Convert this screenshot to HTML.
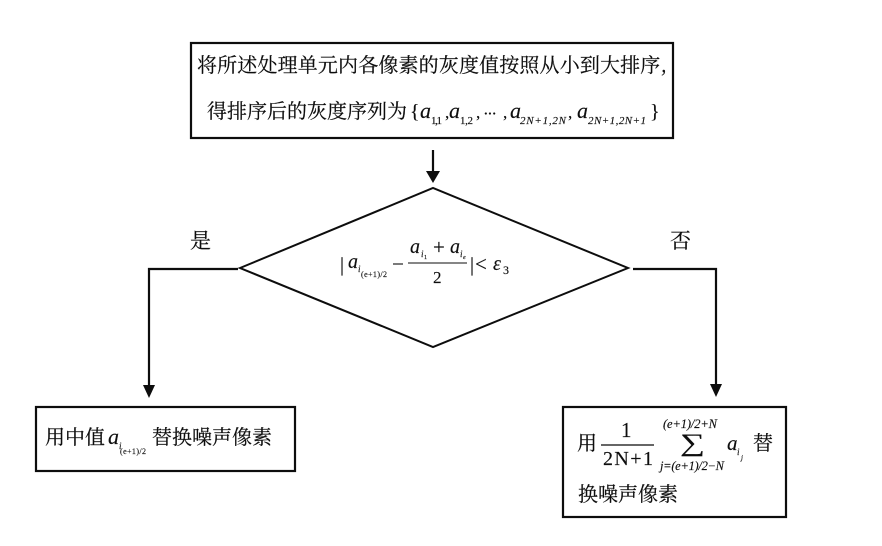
<!DOCTYPE html>
<html><head><meta charset="utf-8"><style>
html,body{margin:0;padding:0;background:#fff}
svg{display:block}
text{fill:#111;stroke:#111;stroke-width:.15}
.c{font-family:"Noto Serif CJK SC","Liberation Serif",serif;font-size:20px;stroke-width:.2}
.m{font-family:"Liberation Serif",serif;font-style:italic}
.r{font-family:"Liberation Serif",serif}
</style></head><body>
<svg width="882" height="546" viewBox="0 0 882 546" xmlns="http://www.w3.org/2000/svg">
<defs><filter id="b" filterUnits="userSpaceOnUse" x="0" y="0" width="882" height="546"><feGaussianBlur stdDeviation="0.35"/></filter></defs>
<rect width="882" height="546" fill="#fff"/>
<g filter="url(#b)">
<g fill="none" stroke="#111" stroke-width="2.2">
<rect x="191" y="43" width="482" height="95"/>
<rect x="36" y="407" width="259" height="64"/>
<rect x="563" y="407" width="223" height="110"/>
<path d="M240 268L433 188L628 268L433 347Z" stroke-width="2"/>
<path d="M238 269H149V386M633 269H716V386M433 150V172"/>
<path d="M408 263H467" stroke-width="1.1"/>
<path d="M393 264H403" stroke-width="1.1"/>
<path d="M601 445H654" stroke-width="1.3"/>
</g>
<g fill="#111">
<path d="M426 171H440L433 183Z"/>
<path d="M143 385H155L149 398Z"/>
<path d="M710 384H722L716 397Z"/>
</g>
<text class="c" x="197" y="72" textLength="470">将所述处理单元内各像素的灰度值按照从小到大排序,</text>
<text class="c" x="207" y="118">得排序后的灰度序列为</text>
<text class="r" x="410" y="118" font-size="20">{</text>
<text class="m" x="420" y="118" font-size="22">a</text><text class="r" x="431" y="124" font-size="11" textLength="11">1,1</text>
<text class="r" x="445" y="118" font-size="17">,</text>
<text class="m" x="449" y="118" font-size="22">a</text><text class="r" x="460" y="124" font-size="11" textLength="13">1,2</text>
<text class="r" x="476" y="118" font-size="17">,</text>
<text class="r" x="483" y="119" font-size="17" textLength="14">···</text>
<text class="r" x="503" y="118" font-size="17">,</text>
<text class="m" x="510" y="118" font-size="22">a</text>
<text class="m" x="520" y="124" font-size="11" textLength="46">2N+1,2N</text>
<text class="r" x="568" y="118" font-size="17">,</text>
<text class="m" x="577" y="118" font-size="22">a</text>
<text class="m" x="588" y="124" font-size="11" textLength="58">2N+1,2N+1</text>
<text class="r" x="650" y="118" font-size="20">}</text>

<text class="c" x="190" y="248" style="font-size:21px">是</text>
<text class="c" x="670" y="248" style="font-size:21px">否</text>

<text class="r" x="340" y="271" font-size="20">|</text>
<text class="m" x="348" y="268" font-size="20">a</text>
<text class="m" x="358" y="272" font-size="9">i</text>
<text class="r" x="361" y="277" font-size="8" textLength="26">(e+1)/2</text>
<text class="m" x="410" y="253" font-size="20">a</text>
<text class="m" x="421" y="257" font-size="9">i</text>
<text class="r" x="424" y="259" font-size="6">1</text>
<text class="r" x="433" y="254" font-size="21">+</text>
<text class="m" x="450" y="253" font-size="20">a</text>
<text class="m" x="457" y="257" font-size="9" dx="3">i</text>
<text class="m" x="463" y="259" font-size="6">e</text>
<text class="r" x="433" y="283" font-size="17">2</text>
<text class="r" x="470" y="271" font-size="20">|</text>
<text class="r" x="475" y="271" font-size="21">&lt;</text>
<text class="m" x="493" y="270" font-size="20">ε</text>
<text class="r" x="503" y="274" font-size="12">3</text>

<text class="c" x="45" y="444">用中值</text>
<text class="m" x="108" y="444" font-size="22">a</text>
<text class="m" x="119" y="449" font-size="9">i</text>
<text class="r" x="120" y="454" font-size="8" textLength="26">(e+1)/2</text>
<text class="c" x="152" y="444">替换噪声像素</text>

<text class="c" x="577" y="450">用</text>
<text class="r" x="621" y="437" font-size="21">1</text>
<text class="r" x="603" y="465" font-size="20" textLength="50">2N+1</text>
<text class="m" x="663" y="428" font-size="12.5" textLength="54">(e+1)/2+N</text>
<text class="r" transform="translate(680,451) scale(1.4,1)" font-size="25">∑</text>
<text class="m" x="660" y="470" font-size="12.5" textLength="64">j=(e+1)/2−N</text>
<text class="m" x="727" y="450" font-size="21">a</text>
<text class="m" x="737" y="455" font-size="9">i</text>
<text class="m" x="741" y="460" font-size="7">j</text>
<text class="c" x="753" y="450">替</text>
<text class="c" x="578" y="501">换噪声像素</text>
</g>
</svg>
</body></html>
